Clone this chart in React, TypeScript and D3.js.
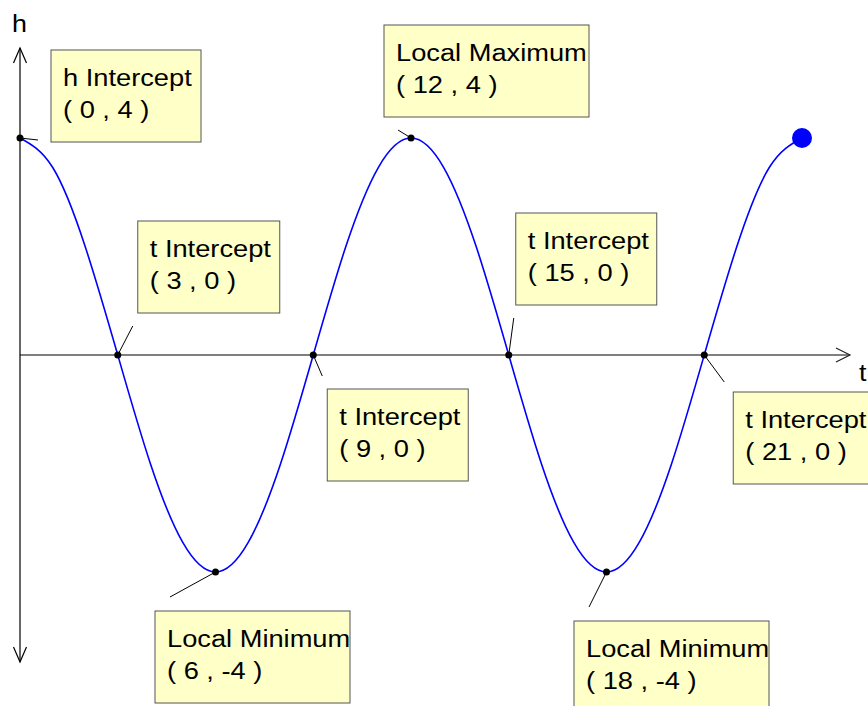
import React from "react";
import * as d3 from "d3";

// curve samples (t, h)
const tValues = [0, 1, 2, 3, 4, 5, 6, 7, 8, 9, 10, 11, 12, 13, 14, 15, 16, 17, 18, 19, 20, 21, 22, 23, 24];
const hValues = [4, 3.46, 2, 0, -2, -3.46, -4, -3.46, -2, 0, 2, 3.46, 4, 3.46, 2, 0, -2, -3.46, -4, -3.46, -2, 0, 2, 3.46, 4];

// labelled points
const labelTitles = ["h Intercept", "t Intercept", "Local Minimum", "t Intercept", "Local Maximum", "t Intercept", "Local Minimum", "t Intercept"];
const labelT = [0, 3, 6, 9, 12, 15, 18, 21];
const labelH = [4, 0, -4, 0, 4, 0, -4, 0];

// end point
const endT = 24;
const endH = 4;

// layout of the callout boxes (pixel offsets from the point)
const boxLayout = [
  { dx: 31, dy: -88, w: 150, lx: 18, ly: 2 },
  { dx: 20, dy: -134, w: 142, lx: 15, ly: -29 },
  { dx: -60.5, dy: 39, w: 195, lx: -45.5, ly: 25 },
  { dx: 14, dy: 34, w: 141, lx: 9, ly: 21 },
  { dx: -27, dy: -113, w: 205, lx: -13, ly: -8 },
  { dx: 7, dy: -142, w: 141, lx: 5, ly: -37 },
  { dx: -32.5, dy: 49, w: 195, lx: -17.5, ly: 35 },
  { dx: 29, dy: 37, w: 142, lx: 20, ly: 27 },
];

const W = 868;
const H = 706;
const FONT = "'Liberation Sans', Arial, sans-serif";

export default function App() {
  const x = d3.scaleLinear().domain([0, 24]).range([20, 802]);
  const y = d3.scaleLinear().domain([-4, 4]).range([572, 138]);

  const pts: [number, number][] = tValues.map((t, i) => [t, hValues[i]]);
  const line = d3
    .line<[number, number]>()
    .x((d) => x(d[0]))
    .y((d) => y(d[1]))
    .curve(d3.curveNatural);

  const x0 = x(0);
  const y0 = y(0);
  const axisLeftTop = 48;
  const axisBottom = 662;
  const xAxisEnd = 850;

  const fmt = (t: number, h: number) => `( ${t} , ${h} )`;

  return (
    <svg
      width={W}
      height={H}
      style={{ position: "absolute", left: 0, top: 0, background: "#fff" }}
      fontFamily={FONT}
    >
      {/* x axis */}
      <line x1={x0} y1={y0} x2={xAxisEnd} y2={y0} stroke="#555" strokeWidth={1.5} />
      <polyline
        points={`${xAxisEnd - 14},${y0 - 7} ${xAxisEnd},${y0} ${xAxisEnd - 14},${y0 + 7}`}
        fill="none"
        stroke="#222"
        strokeWidth={1.2}
      />
      {/* y axis */}
      <line x1={x0} y1={axisLeftTop} x2={x0} y2={axisBottom} stroke="#000" strokeWidth={1.2} />
      <polyline
        points={`${x0 - 6.5},${axisLeftTop + 15} ${x0},${axisLeftTop} ${x0 + 6.5},${axisLeftTop + 15}`}
        fill="none"
        stroke="#000"
        strokeWidth={1.2}
      />
      <polyline
        points={`${x0 - 6.5},${axisBottom - 15} ${x0},${axisBottom} ${x0 + 6.5},${axisBottom - 15}`}
        fill="none"
        stroke="#000"
        strokeWidth={1.2}
      />
      <g transform="translate(12,32) scale(1.12,1)">
        <text x={0} y={0} fontSize={24} fill="#000">h</text>
      </g>
      <g transform="translate(859,381) scale(1.12,1)">
        <text x={0} y={0} fontSize={24} fill="#000">t</text>
      </g>

      {/* curve */}
      <path d={line(pts) || ""} fill="none" stroke="#0000ff" strokeWidth={1.6} />
      <circle cx={x(endT)} cy={y(endH)} r={10} fill="#0000ff" />

      {/* callouts */}
      {labelT.map((t, i) => {
        const px = x(t);
        const py = y(labelH[i]);
        const L = boxLayout[i];
        const bx = px + L.dx;
        const by = py + L.dy;
        return (
          <g key={i}>
            <line x1={px} y1={py} x2={px + L.lx} y2={py + L.ly} stroke="#000" strokeWidth={1} />
            <rect x={bx} y={by} width={L.w} height={92} fill="#ffffc8" stroke="#555" strokeWidth={1} />
            <g transform={`translate(${bx + 12},${by}) scale(1.16,1)`}>
              <text x={0} y={36} fontSize={23.5} fill="#000">
                {labelTitles[i]}
              </text>
              <text x={0} y={68} fontSize={23.5} fill="#000">
                {fmt(t, labelH[i])}
              </text>
            </g>
            <circle cx={px} cy={py} r={3.5} fill="#000" />
          </g>
        );
      })}
    </svg>
  );
}
